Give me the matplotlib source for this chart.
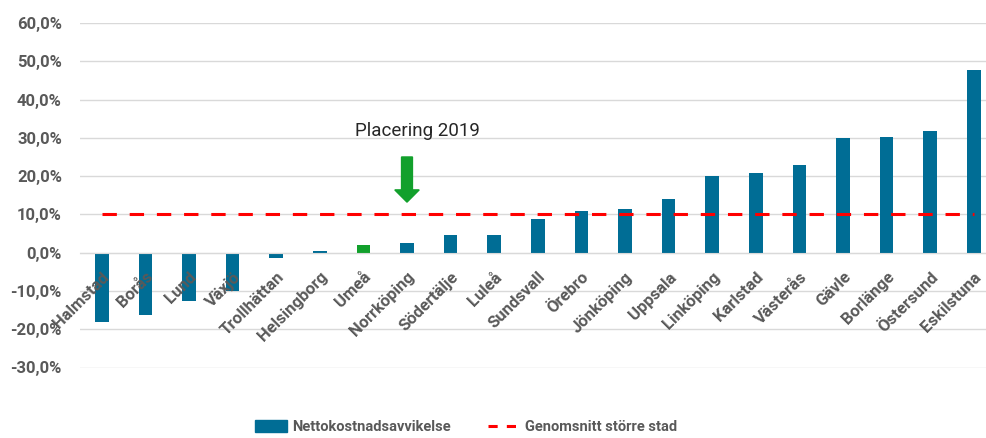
import matplotlib
matplotlib.use("Agg")
import matplotlib.pyplot as plt
from matplotlib.patches import Patch
from matplotlib.lines import Line2D
import numpy as np

# data
cities = ["Halmstad", "Borås", "Lund", "Växjö", "Trollhättan", "Helsingborg",
          "Umeå", "Norrköping", "Södertälje", "Luleå", "Sundsvall", "Örebro",
          "Jönköping", "Uppsala", "Linköping", "Karlstad", "Västerås", "Gävle",
          "Borlänge", "Östersund", "Eskilstuna"]
avvikelse = [-18.2, -16.4, -12.7, -10.0, -1.4, 0.4, 2.1, 2.4, 4.5, 4.6, 8.7,
             11.0, 11.3, 14.0, 20.1, 20.9, 23.0, 29.9, 30.3, 31.8, 47.6]
snitt = 10.0
highlight = "Umeå"
yticks = [-30, -20, -10, 0, 10, 20, 30, 40, 50, 60]

blue = "#006D95"
green = "#12A02C"
grey = "#595959"

plt.rcParams['font.family'] = ['Roboto', 'DejaVu Sans']

fig = plt.figure(figsize=(9.86, 4.38), dpi=100)
ax = fig.add_axes([80/986, 1 - 367.5/438, 906/986, (367.5 - 23)/438])

# move x axis to zero first (this resets the ticks)
ax.spines["bottom"].set_position(("data", 0))
ax.spines["bottom"].set_color("#d9d9d9")
for s in ["top", "right", "left"]:
    ax.spines[s].set_visible(False)
# city names are drawn on top of the bars
ax.xaxis.set_zorder(5)

x = np.arange(len(cities))
colors = [green if c == highlight else blue for c in cities]
ax.bar(x, avvikelse, width=0.31, color=colors, zorder=2)
ax.plot(x, [snitt] * len(x), color="#FF0000", lw=2.2, dashes=(4.7, 4.2),
        zorder=3)

# arrow and label above Norrköping
ax.arrow(7, 25, 0, -11.8, width=0.25, head_width=0.56, head_length=3.2,
         length_includes_head=True, color=green, zorder=4)
ax.text(7.24, 31.8, "Placering 2019", ha="center", va="center",
        fontsize=13.5, color="#262626")

ax.set_xlim(-0.5, 20.28)
ax.set_ylim(-30, 60)
ax.set_yticks(yticks)
ax.set_yticklabels([f"{v:.1f}%".replace(".", ",") for v in yticks],
                   fontsize=12, fontweight="bold", color=grey)
ax.yaxis.grid(True, color="#d9d9d9", lw=1, zorder=0)
ax.tick_params(axis="y", length=0, pad=13)

ax.set_xticks(x)
ax.set_xticklabels(cities, rotation=45, ha="right", rotation_mode="anchor",
                   fontsize=12, fontweight="bold", color=grey)
ax.tick_params(axis="x", length=0, pad=12)

handles = [Patch(color=blue),
           Line2D([0], [0], color="#FF0000", lw=2.2, dashes=(3, 3))]
fig.legend(handles, ["Nettokostnadsavvikelse", "Genomsnitt större stad"],
           loc="center", bbox_to_anchor=(466/986, 1 - 427/438), ncol=2,
           frameon=False, handlelength=2.2, handleheight=0.8,
           columnspacing=2.6, handletextpad=0.3,
           prop={"size": 10.5, "weight": "bold"}, labelcolor=grey)

fig.savefig("out.png", dpi=100)
